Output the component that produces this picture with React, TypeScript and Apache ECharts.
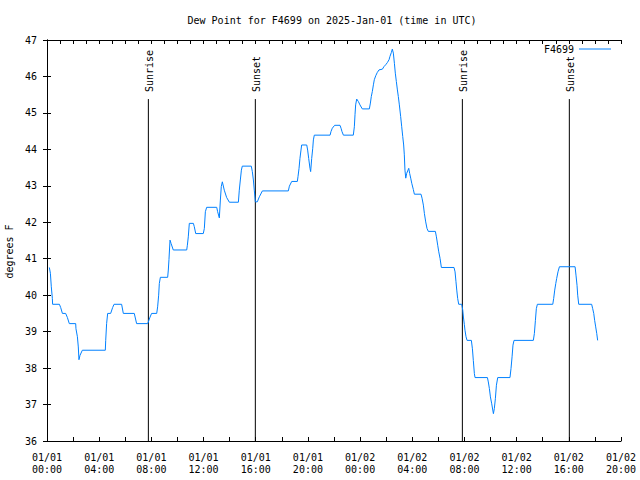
import React, { useEffect, useRef } from "react";
import * as echarts from "echarts";

const FONT = "DejaVu Sans Mono";

const stationName = "F4699";
const chartTitle = "Dew Point for F4699 on 2025-Jan-01 (time in UTC)";
const yAxisName = "degrees F";

// hours since 2025-01-01 00:00 UTC
const hours = [
  0.18, 0.26, 0.33, 0.41, 0.43, 0.95, 1.05, 1.18, 1.43, 1.56, 1.71, 2.2, 2.22, 2.33, 2.4, 2.45, 2.53, 2.71,
  4.47, 4.5, 4.57, 4.65, 4.88, 5.03, 5.14, 5.72, 5.85, 6.69, 6.87, 7.72, 7.9, 8.02, 8.41, 8.48, 8.56, 8.61,
  8.69, 9.25, 9.3, 9.35, 9.43, 9.51, 9.68, 10.71, 10.76, 10.83, 10.91, 11.22, 11.29, 11.4, 11.98, 12.06,
  12.14, 12.24, 13.01, 13.08, 13.21, 13.29, 13.36, 13.44, 13.59, 13.77, 13.98, 14.67, 14.74, 14.82, 14.9,
  14.97, 15.66, 15.74, 15.82, 15.89, 15.97, 16.12, 16.28, 16.51, 18.5, 18.58, 18.76, 19.19, 19.24, 19.32,
  19.39, 19.47, 19.52, 19.91, 19.98, 20.06, 20.16, 20.21, 20.29, 20.37, 20.42, 20.49, 21.7, 21.77, 21.87,
  22.05, 22.46, 22.54, 22.61, 22.72, 23.48, 23.56, 23.61, 23.66, 23.74, 23.87, 23.99, 24.17, 24.71, 24.79,
  24.86, 24.94, 25.02, 25.09, 25.2, 25.32, 25.45, 25.71, 25.83, 25.96, 26.09, 26.22, 26.29, 26.4, 26.47,
  26.55, 26.63, 26.7, 26.78, 26.86, 26.93, 27.01, 27.11, 27.19, 27.27, 27.34, 27.39, 27.44, 27.5, 27.57,
  27.73, 27.8, 27.88, 27.96, 28.08, 28.16, 28.67, 28.75, 28.85, 28.93, 29.03, 29.13, 29.23, 29.77, 29.85,
  29.95, 30.03, 30.13, 30.23, 31.2, 31.28, 31.35, 31.41, 31.48, 31.56, 31.79, 31.87, 31.92, 31.99, 32.04,
  32.12, 32.2, 32.53, 32.61, 32.68, 32.76, 32.81, 33.76, 33.83, 33.91, 33.99, 34.09, 34.22, 34.29, 34.37,
  34.45, 34.55, 35.49, 35.57, 35.65, 35.72, 35.8, 37.28, 37.36, 37.44, 37.51, 37.59, 38.77, 38.84, 38.92,
  39.0, 39.07, 39.17, 39.28, 40.48, 40.55, 40.63, 40.68, 40.76, 41.75, 41.83, 41.91, 41.98, 42.06, 42.14,
  42.21,
];

const dewPointF = [
  40.76, 40.6, 40.23, 39.91, 39.75, 39.75, 39.66, 39.5, 39.5, 39.39, 39.22, 39.22, 39.08, 38.86, 38.58, 38.23, 38.35, 38.49,
  38.49, 38.76, 39.22, 39.5, 39.5, 39.66, 39.75, 39.75, 39.5, 39.5, 39.22, 39.22, 39.4, 39.5, 39.5, 39.68, 40.0, 40.32,
  40.49, 40.49, 40.69, 40.98, 41.51, 41.42, 41.24, 41.24, 41.37, 41.6, 41.97, 41.97, 41.88, 41.69, 41.69, 41.83,
  42.29, 42.41, 42.41, 42.29, 42.12, 42.61, 42.98, 43.11, 42.88, 42.68, 42.55, 42.55, 42.88, 43.16, 43.43,
  43.54, 43.54, 43.39, 43.16, 42.88, 42.56, 42.56, 42.7, 42.86, 42.86, 42.99, 43.12, 43.12, 43.25, 43.48,
  43.75, 43.98, 44.12, 44.12, 43.98, 43.75, 43.48, 43.39, 43.75, 44.03, 44.26, 44.39, 44.39, 44.49, 44.58,
  44.66, 44.66, 44.58, 44.49, 44.39, 44.39, 44.62, 44.95, 45.22, 45.38, 45.31, 45.22, 45.11, 45.11, 45.27,
  45.45, 45.59, 45.77, 45.91, 46.02, 46.11, 46.18, 46.2, 46.27, 46.32, 46.38, 46.46, 46.55, 46.66, 46.75,
  46.64, 46.36, 46.09, 45.86, 45.63, 45.45, 45.22, 44.9, 44.62, 44.35, 44.12, 43.85, 43.43, 43.21, 43.34,
  43.48, 43.34, 43.21, 43.07, 42.9, 42.77, 42.77, 42.66, 42.47, 42.24, 42.01, 41.83, 41.75, 41.75, 41.6,
  41.37, 41.19, 41.01, 40.76, 40.76, 40.64, 40.37, 40.14, 39.91, 39.75, 39.75, 39.59, 39.4, 39.2, 39.04,
  38.86, 38.76, 38.76, 38.53, 38.21, 37.85, 37.74, 37.74, 37.62, 37.44, 37.21, 37.02, 36.75, 36.89, 37.16,
  37.53, 37.74, 37.74, 37.99, 38.31, 38.63, 38.76, 38.76, 38.95, 39.31, 39.63, 39.75, 39.75, 39.91, 40.14,
  40.32, 40.46, 40.64, 40.78, 40.78, 40.55, 40.27, 40.0, 39.75, 39.75, 39.63, 39.5, 39.31, 39.13, 38.95,
  38.76,
];

const sunEventHours = [7.77, 15.97, 31.84, 40.04];
const sunEventLabels = ["Sunrise", "Sunset", "Sunrise", "Sunset"];
const sunLineTop = 45.38;

const xTickLabels = [
  "01/01\n00:00", "01/01\n04:00", "01/01\n08:00", "01/01\n12:00", "01/01\n16:00", "01/01\n20:00",
  "01/02\n00:00", "01/02\n04:00", "01/02\n08:00", "01/02\n12:00", "01/02\n16:00", "01/02\n20:00",
];

const X_MIN = 0;
const X_MAX = 44;
const X_STEP = 4;
const Y_MIN = 36;
const Y_MAX = 47;

export default function App() {
  const ref = useRef<HTMLDivElement>(null);

  useEffect(() => {
    if (!ref.current) return;
    const chart = echarts.init(ref.current, null, { renderer: "svg" });
    const axisLine = { show: true, lineStyle: { color: "#000", width: 1 } };
    const baseText = { fontFamily: FONT, fontSize: 10, color: "#000" };
    const tick = { show: true, inside: true, length: 4, lineStyle: { color: "#000" } };

    chart.setOption({
      animation: false,
      backgroundColor: "#fff",
      textStyle: { fontFamily: FONT },
      title: {
        text: chartTitle,
        left: 327,
        textAlign: "center",
        top: 10,
        textStyle: { ...baseText, fontWeight: "normal" },
      },
      legend: {
        data: [stationName],
        right: 24,
        top: 39,
        align: "right",
        icon: "rect",
        itemWidth: 32,
        itemHeight: 1,
        textStyle: baseText,
      },
      grid: {
        left: 47,
        right: 19,
        top: 40,
        bottom: 39,
        containLabel: false,
        outerBoundsMode: "none",
      },
      xAxis: [
        {
          type: "value",
          position: "bottom",
          min: X_MIN,
          max: X_MAX,
          interval: X_STEP,
          axisLine,
          axisTick: tick,
          minorTick: { show: true, splitNumber: 2, length: 4, lineStyle: { color: "#000" } },
          splitLine: { show: false },
          axisLabel: {
            ...baseText,
            margin: 10,
            lineHeight: 12,
            formatter: (v: number) => xTickLabels[Math.round(v / X_STEP)] ?? "",
          },
        },
        {
          type: "value",
          position: "top",
          min: X_MIN,
          max: X_MAX,
          interval: X_STEP,
          axisLine,
          axisTick: tick,
          minorTick: { show: true, splitNumber: 4, length: 4, lineStyle: { color: "#000" } },
          splitLine: { show: false },
          axisLabel: { show: false },
        },
      ],
      yAxis: [
        {
          type: "value",
          position: "left",
          min: Y_MIN,
          max: Y_MAX,
          interval: 1,
          axisLine,
          axisTick: tick,
          splitLine: { show: false },
          axisLabel: { ...baseText, margin: 10 },
          name: yAxisName,
          nameLocation: "middle",
          nameRotate: 90,
          nameGap: 25,
          nameTextStyle: { ...baseText, padding: [0, 22, 0, 0] },
        },
        {
          type: "value",
          position: "right",
          min: Y_MIN,
          max: Y_MAX,
          interval: 1,
          axisLine,
          axisTick: tick,
          splitLine: { show: false },
          axisLabel: { show: false },
        },
      ],
      series: [
        {
          type: "custom",
          name: "sun",
          xAxisIndex: 0,
          yAxisIndex: 0,
          silent: true,
          data: sunEventHours.map((h) => [h, Y_MIN]),
          renderItem: (params: any, api: any) => {
            const t = api.value(0);
            const bottom = api.coord([t, Y_MIN]);
            const top = api.coord([t, sunLineTop]);
            const label = sunEventLabels[params.dataIndex];
            return {
              type: "group",
              children: [
                {
                  type: "line",
                  shape: { x1: bottom[0], y1: bottom[1], x2: top[0], y2: top[1] },
                  style: { stroke: "#000", lineWidth: 1 },
                },
                {
                  type: "text",
                  x: top[0] + 1,
                  y: top[1] - 7,
                  rotation: Math.PI / 2,
                  style: {
                    text: label,
                    fontFamily: FONT,
                    fontSize: 10,
                    fill: "#000",
                    align: "left",
                    verticalAlign: "middle",
                  },
                },
              ],
            };
          },
          z: 1,
        },
        {
          type: "line",
          name: stationName,
          xAxisIndex: 0,
          yAxisIndex: 0,
          data: hours.map((h, i) => [h, dewPointF[i]]),
          symbol: "none",
          showSymbol: false,
          lineStyle: { color: "#0080ff", width: 1 },
          itemStyle: { color: "#0080ff" },
          z: 3,
        },
      ],
    });

    return () => chart.dispose();
  }, []);

  return <div ref={ref} style={{ width: 640, height: 480, position: "absolute", left: 0, top: 0 }} />;
}
